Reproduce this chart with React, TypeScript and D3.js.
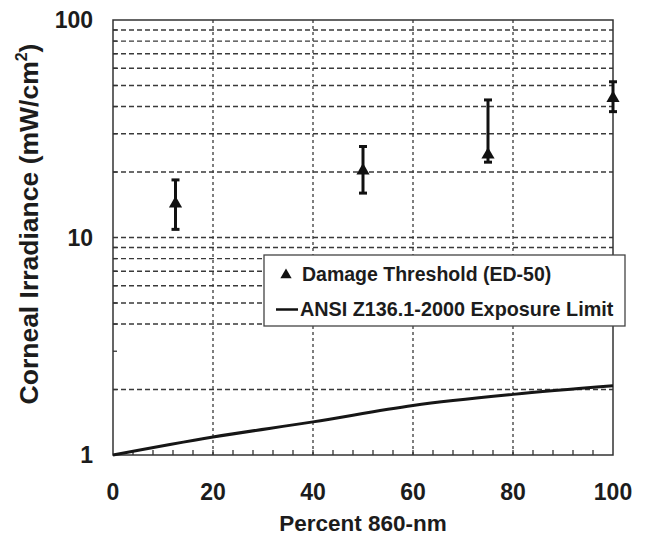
import React, { useEffect, useRef } from 'react';
import * as d3 from 'd3';

// Percent 860-nm vs corneal irradiance (mW/cm2)
const xTicks = [0, 20, 40, 60, 80, 100];
const yTicks = [1, 10, 100];
const yGrid = [2, 4, 5, 6, 7, 8, 9, 10, 20, 30, 40, 50, 60, 70, 80, 90];
const yMinorTicks = [2, 3, 4, 5, 6, 7, 8, 9, 20, 30, 40, 50, 60, 70, 80, 90];
const xGrid = [20, 40, 60, 80];
const xMinorTicks = d3.range(4, 100, 4);

// Damage threshold (ED-50) with error bars
const thresholdX = [12.5, 50, 75, 100];
const thresholdMid = [14.3, 20.3, 24.0, 43.7];
const thresholdLow = [10.9, 16.0, 22.2, 37.9];
const thresholdHigh = [18.4, 26.2, 42.9, 52.0];

// ANSI Z136.1-2000 exposure limit
const limitX = [0, 20, 40, 60, 80, 100];
const limitY = [1.0, 1.21, 1.42, 1.69, 1.9, 2.08];

const FONT = '"Liberation Sans", Arial, Helvetica, sans-serif';
const INK = '#1c1c1c';

const IrradianceChart = () => {
  const svgRef = useRef<SVGSVGElement | null>(null);

  useEffect(() => {
    if (!svgRef.current) return;
    const svg = d3.select(svgRef.current);
    svg.selectAll('*').remove();

    const left = 113, right = 613, top = 20, bottom = 455;

    const x = d3.scaleLinear().domain([0, 100]).range([left, right]);
    const y = d3.scaleLog().domain([1, 100]).range([bottom, top]);

    // horizontal grid (dashed)
    svg.append('g')
      .selectAll('line')
      .data(yGrid)
      .enter()
      .append('line')
      .attr('x1', left)
      .attr('x2', right)
      .attr('y1', d => y(d))
      .attr('y2', d => y(d))
      .attr('stroke', '#3a3a3a')
      .attr('stroke-width', 1.4)
      .attr('stroke-dasharray', '5,3');

    // vertical grid (dashed)
    svg.append('g')
      .selectAll('line')
      .data(xGrid)
      .enter()
      .append('line')
      .attr('x1', d => x(d))
      .attr('x2', d => x(d))
      .attr('y1', top)
      .attr('y2', bottom)
      .attr('stroke', '#3a3a3a')
      .attr('stroke-width', 1.3)
      .attr('stroke-dasharray', '3,3');

    // minor ticks on left axis
    svg.append('g')
      .selectAll('line')
      .data(yMinorTicks)
      .enter()
      .append('line')
      .attr('x1', left)
      .attr('x2', left + 4)
      .attr('y1', d => y(d))
      .attr('y2', d => y(d))
      .attr('stroke', '#333')
      .attr('stroke-width', 1.3);

    // minor ticks on bottom axis
    svg.append('g')
      .selectAll('line')
      .data(xMinorTicks)
      .enter()
      .append('line')
      .attr('x1', d => x(d))
      .attr('x2', d => x(d))
      .attr('y1', bottom)
      .attr('y2', bottom - 5)
      .attr('stroke', '#333')
      .attr('stroke-width', 1.3);

    // frame
    svg.append('rect')
      .attr('x', left)
      .attr('y', top)
      .attr('width', right - left)
      .attr('height', bottom - top)
      .attr('fill', 'none')
      .attr('stroke', '#333')
      .attr('stroke-width', 1.5);

    // tick labels
    svg.append('g')
      .selectAll('text')
      .data(xTicks)
      .enter()
      .append('text')
      .attr('x', d => x(d))
      .attr('y', 500)
      .attr('text-anchor', 'middle')
      .style('font-family', FONT)
      .style('font-weight', 'bold')
      .style('font-size', '23px')
      .attr('fill', INK)
      .text(d => d);

    svg.append('g')
      .selectAll('text')
      .data(yTicks)
      .enter()
      .append('text')
      .attr('x', 93)
      .attr('y', d => y(d) + 8)
      .attr('text-anchor', 'end')
      .style('font-family', FONT)
      .style('font-weight', 'bold')
      .style('font-size', '23px')
      .attr('fill', INK)
      .text(d => d);

    // axis titles
    svg.append('text')
      .attr('x', x(50))
      .attr('y', 531)
      .attr('text-anchor', 'middle')
      .style('font-family', FONT)
      .style('font-weight', 'bold')
      .style('font-size', '22.5px')
      .attr('fill', INK)
      .text('Percent 860-nm');

    const yTitle = svg.append('text')
      .attr('transform', 'translate(38,224) rotate(-90)')
      .attr('text-anchor', 'middle')
      .style('font-family', FONT)
      .style('font-weight', 'bold')
      .style('font-size', '26.5px')
      .attr('fill', INK);
    yTitle.append('tspan').text('Corneal Irradiance (mW/cm');
    yTitle.append('tspan').attr('dy', -11).style('font-size', '16px').text('2');
    yTitle.append('tspan').attr('dy', 11).text(')');

    // exposure limit curve
    const limitLine = d3.line<number>()
      .x((_, i) => x(limitX[i]))
      .y(d => y(d))
      .curve(d3.curveMonotoneX);

    svg.append('path')
      .datum(limitY)
      .attr('d', limitLine)
      .attr('fill', 'none')
      .attr('stroke', '#161616')
      .attr('stroke-width', 3);

    // damage threshold error bars
    const points = thresholdX.map((v, i) => ({
      x: v, mid: thresholdMid[i], lo: thresholdLow[i], hi: thresholdHigh[i],
    }));

    const bars = svg.append('g').attr('stroke', '#111');
    bars.selectAll('.bar')
      .data(points)
      .enter()
      .append('line')
      .attr('x1', d => x(d.x))
      .attr('x2', d => x(d.x))
      .attr('y1', d => y(d.lo))
      .attr('y2', d => y(d.hi))
      .attr('stroke-width', 3);

    bars.selectAll('.capHi')
      .data(points)
      .enter()
      .append('line')
      .attr('x1', d => x(d.x) - 4)
      .attr('x2', d => x(d.x) + 4)
      .attr('y1', d => y(d.hi))
      .attr('y2', d => y(d.hi))
      .attr('stroke-width', 3);

    bars.selectAll('.capLo')
      .data(points)
      .enter()
      .append('line')
      .attr('x1', d => x(d.x) - 4)
      .attr('x2', d => x(d.x) + 4)
      .attr('y1', d => y(d.lo))
      .attr('y2', d => y(d.lo))
      .attr('stroke-width', 3);

    svg.append('g')
      .selectAll('path')
      .data(points)
      .enter()
      .append('path')
      .attr('d', d3.symbol().type(d3.symbolTriangle).size(75)())
      .attr('transform', d => `translate(${x(d.x)},${y(d.mid)})`)
      .attr('fill', '#111');

    // legend
    const lg = svg.append('g');
    lg.append('rect')
      .attr('x', 264)
      .attr('y', 255)
      .attr('width', 361)
      .attr('height', 71)
      .attr('fill', '#fff')
      .attr('stroke', '#444')
      .attr('stroke-width', 1.3);

    lg.append('path')
      .attr('d', d3.symbol().type(d3.symbolTriangle).size(55)())
      .attr('transform', 'translate(286,275)')
      .attr('fill', '#111');

    lg.append('line')
      .attr('x1', 276)
      .attr('x2', 298)
      .attr('y1', 309.5)
      .attr('y2', 309.5)
      .attr('stroke', '#111')
      .attr('stroke-width', 2.5);

    lg.append('text')
      .attr('x', 302)
      .attr('y', 281)
      .style('font-family', FONT)
      .style('font-weight', 'bold')
      .style('font-size', '19.5px')
      .attr('fill', INK)
      .text('Damage Threshold (ED-50)');

    lg.append('text')
      .attr('x', 300)
      .attr('y', 316)
      .style('font-family', FONT)
      .style('font-weight', 'bold')
      .style('font-size', '19.8px')
      .attr('fill', INK)
      .text('ANSI Z136.1-2000 Exposure Limit');
  }, []);

  return (
    <svg
      ref={svgRef}
      width={646}
      height={538}
      style={{ position: 'absolute', left: 0, top: 0, background: '#fff' }}
    />
  );
};

export default function App() {
  return <IrradianceChart />;
}
